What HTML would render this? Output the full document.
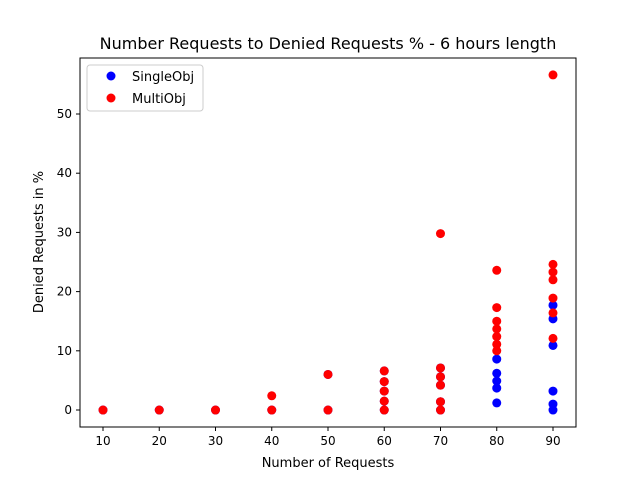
<!DOCTYPE html>
<html><head><meta charset="utf-8"><style>
html,body{margin:0;padding:0;background:#fff;}
svg text{font-family:"DejaVu Sans","Liberation Sans",sans-serif;fill:#000;}
</style></head><body>
<svg id="chart" width="640" height="480" viewBox="0 0 640 480">
<rect width="640" height="480" fill="#fff"/>
<text x="328" y="49" text-anchor="middle" font-size="16">Number Requests to Denied Requests % - 6 hours length</text>
<g id="marks"></g>
<rect x="80" y="58" width="496" height="369" fill="none" stroke="#000" stroke-width="1"/>
<g id="xticks"></g>
<g id="yticks"></g>
<text x="328" y="467" text-anchor="middle" font-size="13">Number of Requests</text>
<text transform="translate(43,242) rotate(-90)" text-anchor="middle" font-size="13">Denied Requests in %</text>
<g>
<rect x="87" y="65" width="116" height="46" rx="3" fill="#fff" stroke="#ccc"/>
<circle cx="111" cy="76" r="4.5" fill="#0000ff"/>
<text x="132" y="81" font-size="13">SingleObj</text>
<circle cx="111" cy="98" r="4.5" fill="#ff0000"/>
<text x="132" y="103" font-size="13">MultiObj</text>
</g>
</svg>
<script>
const xTicks=[10,20,30,40,50,60,70,80,90];
const yTicks=[0,10,20,30,40,50];
const singleX=[10,20,30,40,50,50,60,60,60,60,60,70,70,70,70,70,80,80,80,80,80,90,90,90,90,90,90];
const singleY=[0,0,0,0,0,6.0,0,1.5,3.2,4.8,6.6,0,1.4,4.2,5.6,7.1,1.2,3.7,4.9,6.2,8.6,0,1.0,3.2,10.9,15.4,17.7];
const multiX=[10,20,30,40,40,50,50,60,60,60,60,60,70,70,70,70,70,70,80,80,80,80,80,80,80,90,90,90,90,90,90,90];
const multiY=[0,0,0,0,2.4,0,6.0,0,1.5,3.2,4.8,6.6,0,1.4,4.2,5.6,7.1,29.8,10.0,11.1,12.4,13.7,15.0,17.3,23.6,12.1,16.4,18.9,22.0,23.3,24.6,56.6];
const xMin=5.91,xMax=94.09,yMin=-2.87,yMax=59.46;
const L=80,R=576,T=58,B=427;
const sx=v=>L+(v-xMin)/(xMax-xMin)*(R-L);
const sy=v=>B-(v-yMin)/(yMax-yMin)*(B-T);
const NS="http://www.w3.org/2000/svg";
const mk=(t,a,p)=>{const e=document.createElementNS(NS,t);for(const k in a)e.setAttribute(k,a[k]);p.appendChild(e);return e;};
const xg=document.getElementById('xticks'),yg=document.getElementById('yticks'),mg=document.getElementById('marks');
xTicks.forEach(v=>{const x=sx(v);
const l=mk('line',{x1:x,x2:x,y1:B,y2:B+4,stroke:'#000'},xg);


const t=mk('text',{x:x,y:B+18,'text-anchor':'middle','font-size':'12'},xg);t.textContent=v;

});
yTicks.forEach(v=>{const y=sy(v);
const l=mk('line',{x1:L-4,x2:L,y1:y,y2:y,stroke:'#000'},yg);


const t=mk('text',{x:L-8,y:y+4,'text-anchor':'end','font-size':'12'},yg);t.textContent=v;

});
singleX.forEach((v,i)=>{const c=mk('circle',{cx:sx(v),cy:sy(singleY[i]),r:4.5,fill:'#0000ff'},mg);

});
multiX.forEach((v,i)=>{const c=mk('circle',{cx:sx(v),cy:sy(multiY[i]),r:4.5,fill:'#ff0000'},mg);

});
</script>
</body></html>
